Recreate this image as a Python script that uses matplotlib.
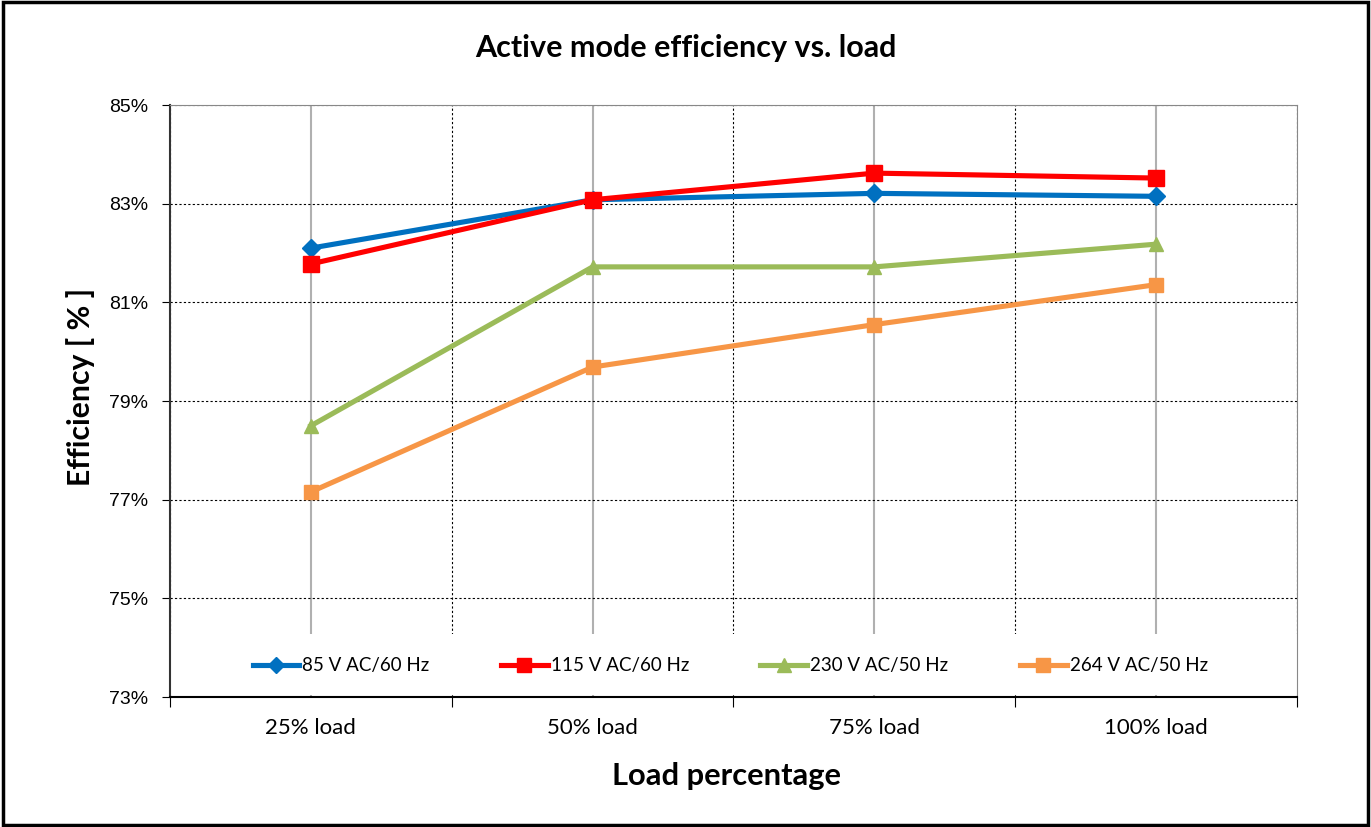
import matplotlib
matplotlib.use("Agg")
import matplotlib.pyplot as plt
from matplotlib.ticker import FixedLocator, FuncFormatter
from matplotlib.patches import Rectangle

categories = ["25% load", "50% load", "75% load", "100% load"]
eff_85v = [82.10, 83.08, 83.21, 83.15]
eff_115v = [81.78, 83.08, 83.62, 83.52]
eff_230v = [78.50, 81.72, 81.72, 82.18]
eff_264v = [77.16, 79.69, 80.55, 81.36]

series = [
    ("85 V AC/60 Hz", eff_85v, "#0070C0", "D", 9.5),
    ("115 V AC/60 Hz", eff_115v, "#FF0000", "s", 11.5),
    ("230 V AC/50 Hz", eff_230v, "#9BBB59", "^", 10.5),
    ("264 V AC/50 Hz", eff_264v, "#F79646", "s", 10.5),
]

fig = plt.figure(figsize=(13.71, 8.27), dpi=100)
ax = fig.add_axes([0.124, 0.157, 0.822, 0.716])

x = list(range(len(categories)))
for label, vals, color, marker, ms in series:
    ax.plot(x, vals, color=color, lw=3.7, marker=marker, ms=ms,
            label=label, zorder=3)

ax.set_xlim(-0.5, len(categories) - 0.5)
ax.set_ylim(73, 85)
ax.yaxis.set_major_locator(FixedLocator([73, 75, 77, 79, 81, 83, 85]))
ax.yaxis.set_major_formatter(FuncFormatter(lambda v, p: f"{v:.0f}%"))

ax.xaxis.set_major_locator(FixedLocator([i - 0.5 for i in range(len(categories) + 1)]))
ax.xaxis.set_minor_locator(FixedLocator(x))
ax.set_xticklabels([], minor=False)
ax.set_xticklabels(categories, minor=True, fontsize=16, family="Lato")
ax.tick_params(axis="x", which="major", length=7, direction="out", color="black")
ax.tick_params(axis="x", which="minor", length=0, pad=15)
ax.tick_params(axis="y", length=6, direction="out", labelsize=14, pad=10)
for t in ax.get_yticklabels():
    t.set_family("Liberation Sans")

ax.grid(axis="y", which="major", color="black", ls=(0, (2, 2)), lw=0.8)
ax.grid(axis="x", which="major", color="black", ls=(0, (2, 2)), lw=0.8)
ax.grid(axis="x", which="minor", color="#B0B0B0", ls="-", lw=1.5)
ax.set_axisbelow(True)

ax.spines["top"].set_color("#888888")
ax.spines["right"].set_color("#888888")
ax.spines["left"].set_color("#333333")
ax.spines["bottom"].set_color("black")
ax.spines["left"].set_linewidth(1.5)
ax.spines["bottom"].set_linewidth(1.5)

# white band behind the legend
ax.add_patch(Rectangle((0, 0.003), 1, 0.103, transform=ax.transAxes,
                       facecolor="white", edgecolor="none", zorder=2.5))
leg = ax.legend(loc="center", bbox_to_anchor=(0.497, 0.053), ncol=4,
                frameon=False, handlelength=2.5, handletextpad=0.16,
                columnspacing=3.8, prop={"family": "Lato", "size": 13.5},
                markerscale=0.9)
leg.set_zorder(4)

fig.text(0.059, 0.532, "Efficiency [ % ]", rotation=90, ha="center",
         va="center", fontsize=21.7, fontweight="bold", family="Lato")
fig.text(0.53, 0.062, "Load percentage", ha="center", va="center",
         fontsize=22.2, fontweight="bold", family="Lato")
fig.text(0.5, 0.942, "Active mode efficiency vs. load", ha="center",
         va="center", fontsize=22, fontweight="bold", family="Lato")

fig.add_artist(Rectangle((0.002, 0.002), 0.996, 0.996, transform=fig.transFigure,
                         fill=False, edgecolor="black", lw=2.5))

fig.savefig("out.png", dpi=100, facecolor="white")
